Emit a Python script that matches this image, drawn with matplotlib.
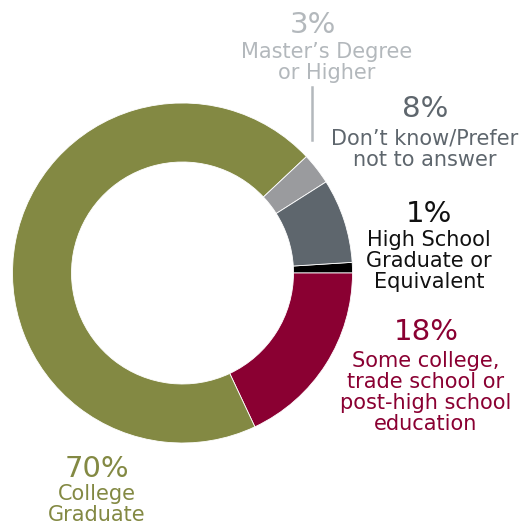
import matplotlib.pyplot as plt

# education breakdown, drawn clockwise starting at the high-school slice
labels = [['High School', 'Graduate or', 'Equivalent'],
          ['Some college,', 'trade school or', 'post-high school', 'education'],
          ['College', 'Graduate'],
          ['Master\u2019s Degree', 'or Higher'],
          ['Don\u2019t know/Prefer', 'not to answer']]
values = [1, 18, 70, 3, 8]
colors = ['#000000', '#8a0032', '#838943', '#9a9b9e', '#5e666d']
text_colors = ['#111111', '#8a0032', '#838943', '#b3b8bc', '#5e666d']

W, H = 532, 525
fig = plt.figure(figsize=(W / 100, H / 100), dpi=100)
ax = fig.add_axes([0, 0, 1, 1])

ax.pie(values, colors=colors, counterclock=False, startangle=3.6,
       center=(182.5, H - 273), radius=170, frame=True,
       wedgeprops=dict(width=59, edgecolor='white', linewidth=0.6))
ax.set_xlim(0, W)
ax.set_ylim(0, H)
ax.set_aspect('equal')
ax.axis('off')

plt.rcParams['font.family'] = ['DejaVu Sans']

# label anchors in pixels from the top: x, percent baseline, first line baseline
spots = [(429, 222, 246),
         (426, 340, 367),
         (97, 477, 500),
         (327, 33, 58),
         (425, 117, 145)]
line_gap = 21

for i in range(len(values)):
    x, yp, yl = spots[i]
    px = 313 if i == 3 else x
    ax.text(px, H - yp, '%d%%' % values[i], color=text_colors[i], fontsize=21,
            ha='center', va='baseline')
    for j, line in enumerate(labels[i]):
        ax.text(x, H - yl - j * line_gap, line, color=text_colors[i],
                fontsize=15, ha='center', va='baseline')

# leader for the small master's slice
ax.plot([312, 312], [H - 87, H - 140], color='#b3b8bc', lw=1.8)

fig.savefig('out.png', dpi=100)
